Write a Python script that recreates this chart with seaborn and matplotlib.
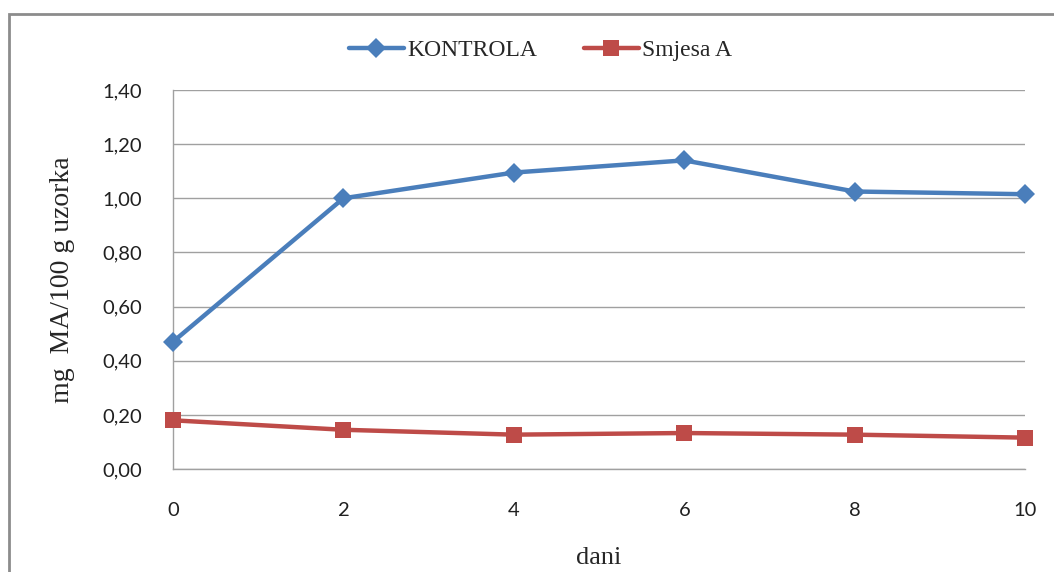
import matplotlib
matplotlib.use('Agg')
import matplotlib.pyplot as plt
import matplotlib.ticker as mticker
from matplotlib.patches import Rectangle
import pandas as pd
import seaborn as sns

# data
dani = [0, 2, 4, 6, 8, 10]
kontrola = [0.47, 1.00, 1.095, 1.14, 1.025, 1.015]
smjesa_a = [0.18, 0.145, 0.127, 0.133, 0.127, 0.116]
series_names = ['KONTROLA', 'Smjesa A']
y_ticks = [0.0, 0.2, 0.4, 0.6, 0.8, 1.0, 1.2, 1.4]

df = pd.DataFrame({
    'dani': dani * 2,
    'value': kontrola + smjesa_a,
    'serija': [series_names[0]] * len(dani) + [series_names[1]] * len(dani),
})

sns.set_style('white')
plt.rcParams['font.family'] = ['Lato', 'DejaVu Sans']

fig = plt.figure(figsize=(10.54, 5.72), dpi=100)
ax = fig.add_axes([0.1641, 0.18, 0.8085, 0.6627])

colors = {'KONTROLA': '#4A7EBB', 'Smjesa A': '#BE4B48'}
markers = {'KONTROLA': 'D', 'Smjesa A': 's'}
sizes = {'KONTROLA': 10, 'Smjesa A': 12}

for name in series_names:
    sub = df[df['serija'] == name]
    sns.lineplot(data=sub, x='dani', y='value', ax=ax, color=colors[name],
                 marker=markers[name], markersize=sizes[name], linewidth=3.2,
                 markeredgewidth=0, label=name, clip_on=False, zorder=3)

ax.set_xlim(0, 10)
ax.set_ylim(0, 1.4)
ax.set_xticks(dani)
ax.set_yticks(y_ticks)
ax.yaxis.set_major_formatter(mticker.FuncFormatter(lambda v, p: f'{v:.2f}'.replace('.', ',')))
ax.grid(axis='y', color='#A0A0A0', linewidth=1)
ax.set_axisbelow(True)
for s in ['top', 'right']:
    ax.spines[s].set_visible(False)
for s in ['left', 'bottom']:
    ax.spines[s].set_color('#A0A0A0')
    ax.spines[s].set_linewidth(1)
ax.tick_params(axis='both', length=0, labelsize=14.5, colors='#202020')
ax.tick_params(axis='y', pad=22)
ax.tick_params(axis='x', pad=24)

ax.set_xlabel('dani', family=['Liberation Serif'], fontsize=19, labelpad=20)
ax.set_ylabel('mg  MA/100 g uzorka', family=['Liberation Serif'], fontsize=20, labelpad=20)

ax.legend_.remove()
handles, labels = ax.get_legend_handles_labels()
fig.legend(handles, labels, loc='center', bbox_to_anchor=(0.513, 0.912), ncol=2, frameon=False,
           prop={'family': 'Liberation Serif', 'size': 17}, handlelength=2.3,
           columnspacing=2.0, handletextpad=0.15)

fig.patches.append(Rectangle((0.0085, -0.05), 1.1, 1.025, transform=fig.transFigure,
                             fill=False, edgecolor='#8C8C8C', linewidth=2))

fig.savefig('out.png', dpi=100)
